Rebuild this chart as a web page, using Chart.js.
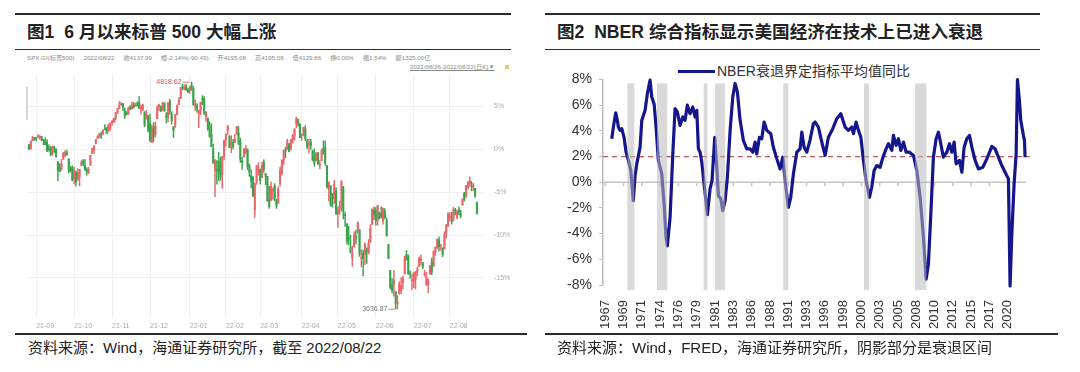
<!DOCTYPE html>
<html>
<head>
<meta charset="utf-8">
<script src="https://cdn.jsdelivr.net/npm/chart.js@4.4.1/dist/chart.umd.min.js"></script>
<style>
  body { margin: 0; width: 1080px; height: 372px; background: #fff; position: relative; overflow: hidden;
         font-family: "Liberation Sans", "Noto Sans CJK SC", sans-serif; color: #222; }
  .rule { position: absolute; background: #2a2a2a; }
  .title { position: absolute; top: 22px; line-height: 20px; font-size: 17.6px; font-weight: bold; white-space: nowrap; }
  .src { position: absolute; top: 339px; line-height: 18px; font-size: 15px; white-space: nowrap; color: #222; }
  .tiny { position: absolute; font-size: 6.2px; line-height: 8px; color: #8a8a8a; white-space: nowrap; }
  .tiny span { margin-right: 9px; }
  canvas { position: absolute; }
</style>
</head>
<body>
<!-- 图1 -->
<div class="rule" style="left:15px;top:13px;width:496px;height:2px"></div>
<div class="title" style="left:27px">图1&nbsp;&nbsp;6 月以来标普 500 大幅上涨</div>
<div class="rule" style="left:15px;top:49px;width:496px;height:1px"></div>
<div class="tiny" style="left:27px;top:54px">
  <span>SPX.GI(标普500)</span><span>2022/08/22</span><span>收4137.99</span><span>幅-2.14%(-90.49)</span><span>开4195.08</span><span>高4195.08</span><span>低4129.86</span><span>换0.00%</span><span>振1.54%</span><span>额1325.00亿</span>
</div>
<div class="tiny" style="left:410px;top:63px;text-decoration:underline">2021/08/26-2022/08/22(日K)▼</div>
<div style="position:absolute;left:505px;top:65px;width:4px;height:4px;background:#d8d070"></div>
<div style="position:absolute;left:26px;top:87px;width:2px;height:33px;background:#d6d6d6"></div>
<canvas id="spx" width="540" height="262" style="left:0;top:70px"></canvas>
<div class="rule" style="left:15px;top:333px;width:512px;height:1.5px"></div>
<div class="src" style="left:28px">资料来源：Wind，海通证券研究所，截至 2022/08/22</div>

<!-- 图2 -->
<div class="rule" style="left:545px;top:13px;width:495px;height:2px"></div>
<div class="title" style="left:557px">图2&nbsp;&nbsp;NBER 综合指标显示美国经济在技术上已进入衰退</div>
<div class="rule" style="left:545px;top:49px;width:495px;height:1px"></div>
<div style="position:absolute;left:678px;top:70px;width:37px;height:3px;background:#16168c"></div>
<div style="position:absolute;left:717px;top:62px;font-size:14px;line-height:18px;color:#333;white-space:nowrap">NBER衰退界定指标平均值同比</div>
<canvas id="nber" width="515" height="280" style="left:545px;top:55px"></canvas>
<div class="rule" style="left:545px;top:333px;width:513px;height:1.5px"></div>
<div class="src" style="left:557px">资料来源：Wind，FRED，海通证券研究所，阴影部分是衰退区间</div>

<script>
// ---------- 图1: SPX daily candles, 2021/08/26 - 2022/08/22 ----------
const opens = [
  4493,4474,4514,4529,4529,4535,4532,4535,4518,4514, 4506,4474,4479,4446,4477,4469,4403,4375,4367,4418,
  4439,4450,4419,4367,4375,4317,4348,4309,4326,4386, 4407,4385,4358,4357,4387,4448,4464,4497,4524,4532,
  4546,4553,4578,4580,4563,4573,4610,4613,4630,4662, 4680,4701,4707,4670,4659,4655,4689,4679,4701,4700,
  4708,4712,4678,4675,4664,4628,4640,4602,4504,4589, 4548,4628,4691,4691,4687,4710,4643,4636,4719,4652,
  4587,4594,4650,4703,4733,4795,4788,4795,4776,4778, 4804,4787,4694,4697,4655,4670,4728,4733,4637,4632,
  4588,4547,4471,4357,4366,4408,4380,4337,4432,4519, 4567,4535,4483,4506,4505,4548,4553,4506,4413,4429,
  4455,4468,4385,4332,4324,4155,4298,4363,4363,4322, 4401,4343,4328,4203,4202,4252,4279,4200,4188,4289,
  4345,4407,4462,4469,4494,4477,4522,4541,4602,4624, 4599,4540,4547,4572,4510,4494,4507,4462,4437,4410,
  4449,4385,4410,4472,4479,4385,4261,4279,4188,4212, 4253,4131,4158,4181,4271,4129,4081,4008,3958,3903,
  3963,4013,4052,4051,3900,3928,3920,3943,3929,3985, 4077,4151,4150,4096,4137,4135,4096,4147,4101,3974,
  3839,3764,3765,3728,3666,3716,3733,3774,3821,3920, 3913,3826,3785,3781,3792,3831,3858,3889,3880,3815,
  3765,3764,3820,3883,3860,3933,3960,3998,3966,3953, 3951,4026,4071,4112,4104,4106,4155,4115,4155,4133,
  4178,4241,4225,4269,4290,4280,4273,4266,4195
];
const highs = [
  4495,4513,4537,4531,4532,4546,4541,4535,4521,4529, 4520,4492,4485,4486,4486,4471,4406,4395,4416,4453,
  4463,4465,4419,4380,4383,4375,4356,4369,4365,4411, 4417,4415,4372,4375,4439,4475,4488,4521,4540,4552,
  4559,4572,4598,4584,4598,4608,4621,4630,4663,4683, 4718,4714,4709,4684,4665,4688,4697,4715,4714,4708,
  4717,4744,4699,4705,4664,4672,4646,4652,4595,4608, 4612,4697,4705,4695,4713,4711,4660,4712,4731,4666,
  4588,4651,4701,4740,4791,4807,4805,4809,4787,4796, 4818.62,4797,4726,4707,4673,4715,4749,4744,4665,4632,
  4612,4602,4495,4417,4411,4453,4428,4432,4517,4550, 4595,4540,4540,4521,4547,4589,4588,4527,4427,4473,
  4490,4471,4394,4362,4327,4295,4385,4399,4366,4402, 4414,4343,4329,4277,4300,4268,4291,4209,4275,4376,
  4415,4465,4481,4522,4500,4521,4546,4575,4637,4627, 4603,4550,4583,4593,4521,4521,4521,4464,4471,4453,
  4453,4410,4471,4513,4513,4386,4300,4279,4240,4308, 4270,4170,4200,4307,4276,4144,4081,4068,4022,3964,
  4039,4048,4091,4051,3946,3944,3982,3956,3999,4076, 4158,4169,4166,4177,4143,4169,4165,4160,4111,3974,
  3839,3796,3838,3728,3708,3779,3802,3809,3913,3943, 3920,3837,3818,3830,3833,3856,3910,3918,3880,3839,
  3829,3796,3865,3903,3940,3960,4003,4013,3975,3957, 4039,4079,4140,4141,4141,4167,4162,4151,4170,4152,
  4211,4245,4280,4301,4325,4302,4292,4266,4195
];
const lows = [
  4468,4470,4513,4515,4513,4527,4521,4513,4493,4492, 4457,4459,4435,4439,4453,4427,4306,4351,4360,4418,
  4430,4437,4346,4352,4307,4289,4278,4309,4278,4383, 4384,4360,4335,4342,4387,4447,4448,4497,4524,4529,
  4525,4545,4570,4551,4563,4568,4595,4608,4621,4655, 4680,4698,4672,4630,4648,4650,4673,4679,4683,4692,
  4694,4682,4652,4670,4585,4626,4560,4510,4504,4510, 4532,4628,4670,4665,4670,4667,4606,4611,4652,4600,
  4531,4583,4648,4703,4733,4780,4778,4776,4765,4759, 4775,4699,4671,4662,4582,4650,4702,4650,4614,4568,
  4533,4482,4396,4222,4287,4304,4309,4265,4414,4484, 4544,4477,4452,4471,4505,4548,4493,4401,4364,4429,
  4447,4363,4328,4268,4222,4114,4286,4335,4288,4322, 4350,4285,4199,4161,4202,4210,4200,4161,4188,4277,
  4335,4390,4425,4469,4455,4466,4501,4517,4581,4589, 4530,4517,4539,4514,4471,4450,4469,4408,4381,4410,
  4392,4367,4410,4444,4385,4267,4201,4175,4168,4188, 4131,4063,4132,4148,4107,4068,3975,3972,3928,3859,
  3958,3976,4033,3912,3857,3810,3869,3875,3925,3985, 4077,4104,4074,4074,4107,4110,4080,4107,4017,3900,
  3743,3721,3705,3640,3636.87,3716,3717,3743,3821,3892, 3819,3797,3739,3749,3742,3810,3858,3869,3847,3807,
  3759,3722,3818,3817,3860,3917,3952,3939,3944,3910, 3951,4006,4067,4096,4079,4096,4128,4107,4129,4112,
  4178,4201,4219,4262,4277,4253,4254,4218,4130
];
const closes = [
  4470,4509,4529,4523,4524,4537,4535,4520,4514,4493, 4459,4469,4443,4481,4474,4433,4358,4354,4395,4449,
  4455,4443,4353,4360,4307,4357,4300,4345,4363,4399, 4391,4361,4350,4363,4438,4471,4486,4519,4536,4549,
  4544,4566,4574,4551,4596,4605,4613,4631,4660,4680, 4697,4701,4685,4646,4649,4683,4682,4700,4688,4704,
  4698,4682,4690,4701,4595,4655,4567,4513,4577,4538, 4591,4686,4701,4667,4712,4668,4634,4709,4668,4620,
  4568,4649,4697,4725,4791,4786,4793,4778,4766,4796, 4793,4700,4696,4677,4670,4713,4726,4659,4663,4577,
  4533,4483,4398,4410,4356,4350,4326,4432,4516,4546, 4589,4477,4501,4484,4522,4587,4504,4419,4401,4472,
  4475,4381,4349,4305,4226,4288,4385,4374,4306,4387, 4364,4329,4201,4171,4278,4260,4204,4173,4262,4358,
  4412,4463,4461,4512,4457,4520,4543,4575,4632,4602, 4530,4546,4583,4525,4481,4500,4488,4413,4397,4447,
  4392,4391,4463,4460,4394,4272,4297,4175,4184,4288, 4132,4155,4175,4301,4147,4123,3991,4001,3936,3930,
  4024,4008,4088,3923,3901,3901,3974,3941,3979,4058, 4158,4132,4101,4177,4109,4121,4161,4116,4018,3901,
  3750,3735,3790,3667,3675,3765,3760,3796,3912,3901, 3821,3819,3785,3825,3831,3845,3903,3899,3855,3819,
  3801,3790,3863,3831,3937,3960,3999,3962,3967,3921, 4024,4072,4130,4119,4091,4155,4152,4145,4140,4122,
  4210,4208,4280,4297,4305,4275,4284,4228,4138
];
const monthTickIdx = [4, 25, 46, 67, 89, 109, 128, 151, 171, 192, 213, 233];
const monthLabels = ['21-09','21-10','21-11','21-12','22-01','22-02','22-03','22-04','22-05','22-06','22-07','22-08'];
const pctTicks = [5, 0, -5, -10, -15];

// ---------- 图2: NBER recession indicator average, yoy (%) ----------
const nberYears = [
  1967.86,1968.07,1968.38,1968.6,1968.73,1968.96,1969.18,1969.48,1969.75,1970.05,1970.37,1970.7,1970.94,1971.16,
  1971.6,1971.82,1972.26,1972.56,1972.92,1973.14,1973.45,1973.71,1974.01,1974.46,1974.77,1975.03,1975.2,1975.56,
  1975.92,1976.22,1976.52,1976.88,1977.24,1977.54,1977.84,1978.2,1978.56,1978.86,1979.09,1979.3,1979.52,1979.75,
  1980.05,1980.49,1980.84,1981.1,1981.46,1981.73,1981.94,1982.26,1982.52,1982.83,1983.13,1983.49,1983.84,1984.15,
  1984.45,1984.81,1985.24,1985.69,1986.13,1986.49,1986.79,1987.01,1987.36,1987.67,1987.98,1988.33,1988.86,1989.2,
  1989.66,1990.09,1990.45,1990.75,1991.19,1991.5,1991.85,1992.3,1992.73,1992.96,1993.26,1993.62,1994.05,1994.49,
  1994.71,1995.15,1995.6,1996.04,1996.47,1997.05,1997.58,1998.11,1998.68,1999.11,1999.56,1999.78,2000.13,2000.44,
  2000.76,2001.1,2001.45,2001.89,2002.2,2002.51,2002.86,2003.3,2003.65,2004.09,2004.4,2004.85,2005.06,2005.42,
  2005.72,2006.04,2006.39,2006.74,2007.18,2007.71,2008.15,2008.59,2009.03,2009.38,2009.68,2010.0,2010.34,2010.7,
  2011.0,2011.23,2011.66,2012.11,2012.46,2012.77,2013.08,2013.34,2013.78,2014.1,2014.4,2014.76,2015.1,2015.42,
  2015.85,2016.29,2016.87,2017.4,2018.06,2018.49,2018.93,2019.38,2019.81,2020.25,2020.47,2020.7,2021.0,2021.27,
  2021.44,2021.7,2021.88,2022.23,2022.37,2022.45
];
const nberValues = [
  3.39,4.3,5.4,4.8,4.3,4.04,4.17,3.5,2.34,1.7,0.9,-1.43,0.52,1.43,
  2.73,4.8,5.6,6.9,7.95,6.64,6.1,4.3,1.7,0.66,-1.69,-4.3,-4.95,-2.73,
  2.2,5.73,5.47,4.43,5.08,4.82,6.0,5.34,5.86,5.08,5.6,2.6,2.34,1.56,
  -0.13,-2.52,-0.52,0.13,3.5,1.17,-1.04,-1.3,-2.21,-1.43,0.39,4.04,6.64,7.69,
  7.03,4.82,3.26,2.6,2.6,2.34,3.13,2.2,3.5,3.39,4.69,4.04,3.78,2.73,
  1.82,1.04,1.95,0.13,-1.95,-1.17,0.66,2.34,2.6,3.9,2.73,2.34,3.3,4.56,
  4.69,4.3,3.13,2.09,3.5,4.17,4.95,5.34,4.3,4.04,4.3,3.78,4.69,4.04,
  3.5,1.7,0.13,-1.17,-0.39,0.91,1.3,1.17,1.9,2.6,3.0,2.48,3.65,2.87,
  3.39,2.48,3.13,2.34,2.34,2.09,0.91,-1.17,-4.3,-7.55,-6.38,-2.47,1.95,3.39,
  3.9,3.26,1.95,2.34,3.0,2.34,3.13,1.43,1.7,0.78,2.73,3.39,3.65,2.73,
  1.7,1.04,1.17,1.82,2.79,2.6,1.95,1.3,0.78,0.26,-8.07,-4.03,-0.13,2.2,
  8.0,6.38,4.82,3.65,3.26,1.95
];
const recessionStart = [1969.92, 1973.83, 1980.0, 1981.5, 1990.5, 2001.17, 2007.92];
const recessionEnd   = [1970.83, 1975.17, 1980.5, 1982.83, 1991.17, 2001.83, 2009.42];
const yearLabels = ['1967','1969','1971','1974','1976','1979','1981','1983','1986','1988','1991','1993',
                    '1996','1998','2000','2003','2005','2008','2010','2012','2015','2017','2020'];
const labelStepMonths = 29;
const nberLevel = 2;

// ---------- chart 1 ----------
const basePrice = closes[0];
const upColor = '#e8676a', downColor = '#3aa34c';
const candleColors = closes.map((c, i) => (c >= opens[i] ? upColor : downColor));

const extremes = {
  id: 'extremes',
  afterDatasetsDraw(chart) {
    const { ctx, scales: { x, y } } = chart;
    const hi = Math.max(...highs), lo = Math.min(...lows);
    const marks = [
      { i: highs.indexOf(hi), v: hi, color: '#d9534f' },
      { i: lows.indexOf(lo), v: lo, color: '#777' },
    ];
    ctx.save();
    ctx.font = '7px "Liberation Sans"';
    ctx.textAlign = 'right';
    ctx.textBaseline = 'middle';
    marks.forEach(m => {
      const px = x.getPixelForValue(m.i), py = y.getPixelForValue(m.v);
      ctx.strokeStyle = m.color; ctx.fillStyle = m.color; ctx.lineWidth = 0.8;
      ctx.beginPath(); ctx.moveTo(px - 2, py); ctx.lineTo(px - 9, py); ctx.stroke();
      ctx.fillText(m.v.toFixed(2), px - 10, py);
    });
    ctx.restore();
  }
};

new Chart(document.getElementById('spx'), {
  type: 'bar',
  data: {
    datasets: [
      { data: closes.map((c, i) => ({ x: i, y: [lows[i], highs[i]] })), backgroundColor: candleColors, barThickness: 0.8, grouped: false },
      { data: closes.map((c, i) => ({ x: i, y: [opens[i], c] })), backgroundColor: candleColors, barThickness: 1.4, grouped: false, minBarLength: 1 },
    ]
  },
  options: {
    responsive: false, animation: false, devicePixelRatio: 1,
    layout: { padding: { left: 27, top: 4, right: 0, bottom: 0 } },
    plugins: { legend: { display: false }, tooltip: { enabled: false } },
    scales: {
      x: {
        type: 'linear', min: -1.1, max: 251.9, offset: false,
        grid: { color: '#f0f0f0', drawTicks: false, offset: false }, border: { display: false },
        afterBuildTicks: s => { s.ticks = monthTickIdx.map(v => ({ value: v })); },
        afterFit: s => { s.height = 14; },
        ticks: { autoSkip: false, maxRotation: 0, align: 'start', padding: 4, color: '#aaa',
                 font: { size: 7, family: 'Liberation Sans' }, callback: (v, i) => monthLabels[i] }
      },
      y: {
        position: 'right', min: 3591, max: 4860,
        grid: { color: '#f0f0f0', drawTicks: true, tickLength: 10, tickColor: 'rgba(0,0,0,0)' }, border: { display: false },
        afterBuildTicks: s => { s.ticks = pctTicks.map(p => ({ value: basePrice * (1 + p / 100) })); },
        afterFit: s => { s.width = 56; },
        ticks: { padding: 0, color: '#aaa', font: { size: 7, family: 'Liberation Sans' }, callback: (v, i) => pctTicks[i] + '%' }
      }
    }
  },
  plugins: [extremes]
});

// ---------- chart 2 ----------
const zeroLine = {
  id: 'zeroLine',
  beforeDatasetsDraw(chart) {
    const { ctx, chartArea: a, scales: { x, y } } = chart;
    const py = y.getPixelForValue(0);
    ctx.save();
    ctx.strokeStyle = '#c6c6c6'; ctx.lineWidth = 1.5;
    ctx.beginPath();
    ctx.moveTo(a.left, py); ctx.lineTo(a.right - 4, py);
    x.ticks.forEach(t => { const px = x.getPixelForValue(t.value); ctx.moveTo(px, py); ctx.lineTo(px, py + 4); });
    ctx.stroke();
    ctx.restore();
  }
};
const recessionBands = {
  id: 'recessionBands',
  afterDatasetsDraw(chart) {
    const { ctx, scales: { x, y } } = chart;
    const top = y.getPixelForValue(7.7), bottom = y.getPixelForValue(-8.4);
    ctx.save();
    ctx.fillStyle = 'rgba(185,185,185,0.55)';
    recessionStart.forEach((s, i) => {
      const x0 = x.getPixelForValue(s), x1 = x.getPixelForValue(recessionEnd[i]);
      ctx.fillRect(x0, top, x1 - x0, bottom - top);
    });
    ctx.restore();
  }
};

new Chart(document.getElementById('nber'), {
  type: 'line',
  data: {
    datasets: [
      { data: nberYears.map((t, i) => ({ x: t, y: nberValues[i] })), borderColor: '#16168c', borderWidth: 3.2,
        pointRadius: 0, tension: 0, clip: false, borderJoinStyle: 'round' },
      { data: [{ x: 1966.7, y: nberLevel }, { x: 2023.1, y: nberLevel }], borderColor: '#b8585a', borderWidth: 1.2,
        borderDash: [5, 4], pointRadius: 0 },
    ]
  },
  options: {
    responsive: false, animation: false, devicePixelRatio: 1,
    layout: { padding: { left: 0, top: 24.5, right: 30, bottom: 0 } },
    plugins: { legend: { display: false }, tooltip: { enabled: false } },
    scales: {
      x: {
        type: 'linear', min: 1966.7, max: 2023.1,
        grid: { display: false }, border: { display: false },
        afterBuildTicks: s => { s.ticks = yearLabels.map((l, k) => ({ value: 1967 + k * labelStepMonths / 12 })); },
        afterFit: s => { s.height = 50; },
        ticks: { autoSkip: false, minRotation: 90, maxRotation: 90, padding: 7, color: '#333',
                 font: { size: 13, family: 'Liberation Sans' }, callback: (v, i) => yearLabels[i] }
      },
      y: {
        min: -8, max: 8,
        grid: { drawOnChartArea: false, tickLength: 4, tickColor: '#bdbdbd' },
        border: { color: '#bdbdbd', width: 1.5 },
        afterFit: s => { s.width = 58; },
        ticks: { stepSize: 2, padding: 7, color: '#333', font: { size: 14, family: 'Liberation Sans' }, callback: v => v + '%' }
      }
    }
  },
  plugins: [zeroLine, recessionBands]
});
</script>
</body>
</html>
